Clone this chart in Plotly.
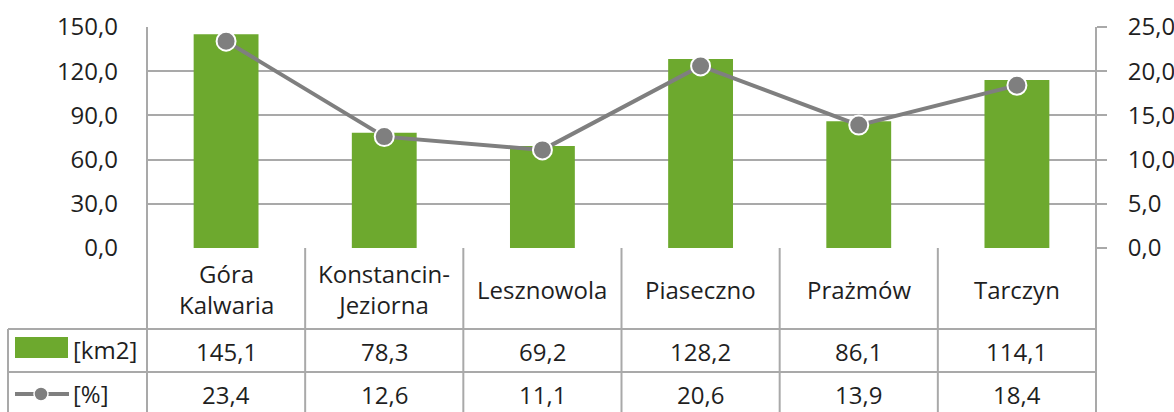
import plotly.graph_objects as go

categories = ["Góra<br>Kalwaria", "Konstancin-<br>Jeziorna", "Lesznowola", "Piaseczno", "Prażmów", "Tarczyn"]
area_km2 = [145.1, 78.3, 69.2, 128.2, 86.1, 114.1]
share_pct = [23.4, 12.6, 11.1, 20.6, 13.9, 18.4]
series_names = ["[km2]", "[%]"]
left_ticks = [0, 30, 60, 90, 120, 150]
right_ticks = [0, 5, 10, 15, 20, 25]

W, H = 1174, 412
L, R, T, B = 147, 1096, 27, 248  # plot area pixels
GREEN = "#6DA92E"
LGRAY = "#7F7F7F"
GRID = "#A9A9A9"
TXT = "#1F1F1F"
FONT = "Open Sans"
FS = 24

def px(p):
    return (p - L) / (R - L)

def py(p):
    return (B - p) / (B - T)

def fmt(v):
    return f"{v:.1f}".replace(".", ",")

xs = list(range(len(categories)))

fig = go.Figure()
fig.add_trace(go.Bar(x=xs, y=area_km2, marker=dict(color=GREEN, line=dict(width=0)),
                     width=0.41, yaxis="y", showlegend=False, hoverinfo="skip"))
fig.add_trace(go.Scatter(x=xs, y=share_pct, yaxis="y2", mode="lines+markers",
                         line=dict(color=LGRAY, width=4),
                         marker=dict(size=19, color=LGRAY, line=dict(color="white", width=2)),
                         showlegend=False, hoverinfo="skip"))

shapes = []
line_style = dict(color=GRID, width=2)
# axis lines (full height incl. table)
for xp in (0, 1):
    shapes.append(dict(type="line", xref="paper", yref="paper", x0=xp, x1=xp,
                       y0=py(415), y1=1, line=line_style))
# internal category boundaries in table
for i in range(1, len(categories)):
    shapes.append(dict(type="line", xref="x", yref="paper", x0=i - 0.5, x1=i - 0.5,
                       y0=py(415), y1=0, line=line_style))
# horizontal table lines
for p in (329, 372):
    shapes.append(dict(type="line", xref="paper", yref="paper", x0=px(8), x1=1,
                       y0=py(p), y1=py(p), line=line_style))
# left table border
shapes.append(dict(type="line", xref="paper", yref="paper", x0=px(8), x1=px(8),
                   y0=py(415), y1=py(329), line=line_style))
# legend keys
shapes.append(dict(type="rect", xref="paper", yref="paper", x0=px(15), x1=px(68),
                   y0=py(358), y1=py(337), fillcolor=GREEN, line=dict(width=0)))
shapes.append(dict(type="line", xref="paper", yref="paper", x0=px(15), x1=px(69),
                   y0=py(394), y1=py(394), line=dict(color=LGRAY, width=4)))
shapes.append(dict(type="circle", xref="paper", yref="paper", x0=px(34), x1=px(48),
                   y0=py(401), y1=py(387), fillcolor=LGRAY, line=dict(color="white", width=1.5)))

annotations = []
for i, c in enumerate(categories):
    annotations.append(dict(x=i, y=py(289), xref="x", yref="paper", text=c, showarrow=False,
                            font=dict(family=FONT, size=FS, color=TXT), align="center",
                            xanchor="center", yanchor="middle"))
    annotations.append(dict(x=i, y=py(351), xref="x", yref="paper", text=fmt(area_km2[i]),
                            showarrow=False, font=dict(family=FONT, size=FS, color=TXT),
                            xanchor="center", yanchor="middle"))
    annotations.append(dict(x=i, y=py(394), xref="x", yref="paper", text=fmt(share_pct[i]),
                            showarrow=False, font=dict(family=FONT, size=FS, color=TXT),
                            xanchor="center", yanchor="middle"))
for name, p in zip(series_names, (349, 393)):
    annotations.append(dict(x=px(71), y=py(p), xref="paper", yref="paper", text=name,
                            showarrow=False, font=dict(family=FONT, size=FS, color=TXT),
                            xanchor="left", yanchor="middle"))

fig.update_layout(
    width=W, height=H,
    margin=dict(l=L, r=W - R, t=T, b=H - B, pad=0, autoexpand=False),
    paper_bgcolor="white", plot_bgcolor="white",
    separators=", ",
    font=dict(family=FONT, size=FS, color=TXT),
    xaxis=dict(range=[-0.5, len(categories) - 0.5], showticklabels=False, showgrid=False,
               zeroline=False, showline=False, ticks="", automargin=False),
    yaxis=dict(range=[0, 150], tickvals=left_ticks, tickformat=".1f", showgrid=True,
               gridcolor=GRID, gridwidth=2, zeroline=False, showline=False, ticks="",
               automargin=False,
               ticklabelstandoff=28, tickfont=dict(family=FONT, size=FS, color=TXT)),
    yaxis2=dict(range=[0, 25], tickvals=right_ticks, tickformat=".1f", overlaying="y",
                side="right", showgrid=False, zeroline=False, showline=False,
                ticks="outside", ticklen=10, tickwidth=2, tickcolor=GRID, automargin=False,
                ticklabelstandoff=16, tickfont=dict(family=FONT, size=FS, color=TXT)),
    shapes=shapes, annotations=annotations, bargap=0.59,
)

fig.write_html("out.html", config={"displayModeBar": False},
               post_script="document.body.style.margin='0';document.body.style.padding='0';"
                           "document.body.style.overflow='hidden';")
